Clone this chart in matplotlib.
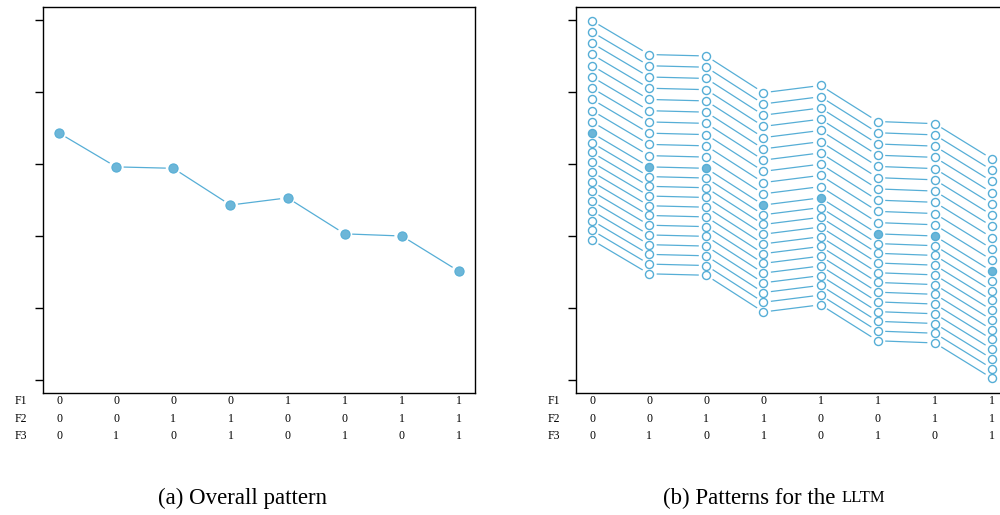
import numpy as np
import matplotlib.pyplot as plt
from matplotlib.transforms import blended_transform_factory

# item design: three binary features per item
f1 = [0, 0, 0, 0, 1, 1, 1, 1]
f2 = [0, 0, 1, 1, 0, 0, 1, 1]
f3 = [0, 1, 0, 1, 0, 1, 0, 1]

# overall pattern (mean over persons)
overall = [3.43, 2.96, 2.94, 2.43, 2.53, 2.03, 2.00, 1.51]

# person shifts relative to the overall pattern
shifts_up = [0.156, 0.312, 0.468, 0.624, 0.780, 0.936, 1.092, 1.248, 1.404, 1.560]
shifts_down = [0.135, 0.270, 0.405, 0.540, 0.675, 0.810, 0.945, 1.080, 1.215,
               1.350, 1.485]

line_col = "#56aed6"
fill_col = "#6cb6d8"
serif = ["Liberation Serif", "DejaVu Serif"]

W, H = 1000, 515
fig = plt.figure(figsize=(W / 100, H / 100), dpi=100)
ax_a = fig.add_axes([43 / W, 1 - 393 / H, 432 / W, 386 / H])
ax_b = fig.add_axes([576 / W, 1 - 393 / H, 432 / W, 386 / H])

x = np.arange(1, len(overall) + 1)


def style(ax):
    ax.set_xlim(0.72, 8.28)
    ax.set_ylim(-0.18, 5.18)
    ax.set_xticks([])
    ax.set_yticks([0, 1, 2, 3, 4, 5])
    ax.set_yticklabels([])
    ax.tick_params(axis="y", direction="out", length=6, width=1, color="black")
    for s in ax.spines.values():
        s.set_linewidth(1.0)
        s.set_color("black")


def gapped_line(ax, xs, ys, gap=7.5):
    # connect points like R's type="b": leave a gap around each marker
    pts = ax.transData.transform(np.column_stack([xs, ys]))
    inv = ax.transData.inverted()
    for i in range(len(xs) - 1):
        p0, p1 = pts[i], pts[i + 1]
        d = p1 - p0
        u = d / np.hypot(*d)
        seg = inv.transform(np.array([p0 + u * gap, p1 - u * gap]))
        ax.plot(seg[:, 0], seg[:, 1], color=line_col, lw=0.9,
                solid_capstyle="butt")


def feature_table(ax):
    tr = blended_transform_factory(ax.transData, fig.transFigure)
    for row, (name, vals) in enumerate([("F1", f1), ("F2", f2), ("F3", f3)]):
        yf = 1 - (401 + row * 17.5) / H
        fig.text(ax.get_position().x0 - 16 / W, yf, name, ha="right",
                 va="center", fontsize=8.5, family=serif)
        for xi, v in zip(x, vals):
            ax.text(xi, yf, str(v), transform=tr, ha="center", va="center",
                    fontsize=8.5, family=serif)


style(ax_a)
style(ax_b)

# (a) overall pattern
gapped_line(ax_a, x, overall)
ax_a.plot(x, overall, "o", ms=6.6, mfc=fill_col, mec=line_col, mew=0.8)

# (b) one line per shift, overall pattern filled
all_shifts = [s for s in shifts_up] + [-s for s in shifts_down]
for s in all_shifts:
    ys = np.array(overall) + s
    gapped_line(ax_b, x, ys)
    ax_b.plot(x, ys, "o", ms=5.8, mfc="white", mec=line_col, mew=1.0)
gapped_line(ax_b, x, overall)
ax_b.plot(x, overall, "o", ms=5.8, mfc=fill_col, mec=line_col, mew=1.0)

feature_table(ax_a)
feature_table(ax_b)

# captions
fig.text(243 / W, 1 - 498 / H, "(a) Overall pattern", ha="center",
         va="center", fontsize=16.5, family=serif)
cap = fig.text(663 / W, 1 - 498 / H, "(b) Patterns for the ", ha="left",
               va="center", fontsize=16.5, family=serif)
fig.canvas.draw()
ext = cap.get_window_extent()
fig.text(ext.x1 / W, 1 - 498 / H, "LLTM", ha="left", va="center",
         fontsize=12, family=serif)

fig.savefig("out.png", dpi=100)
